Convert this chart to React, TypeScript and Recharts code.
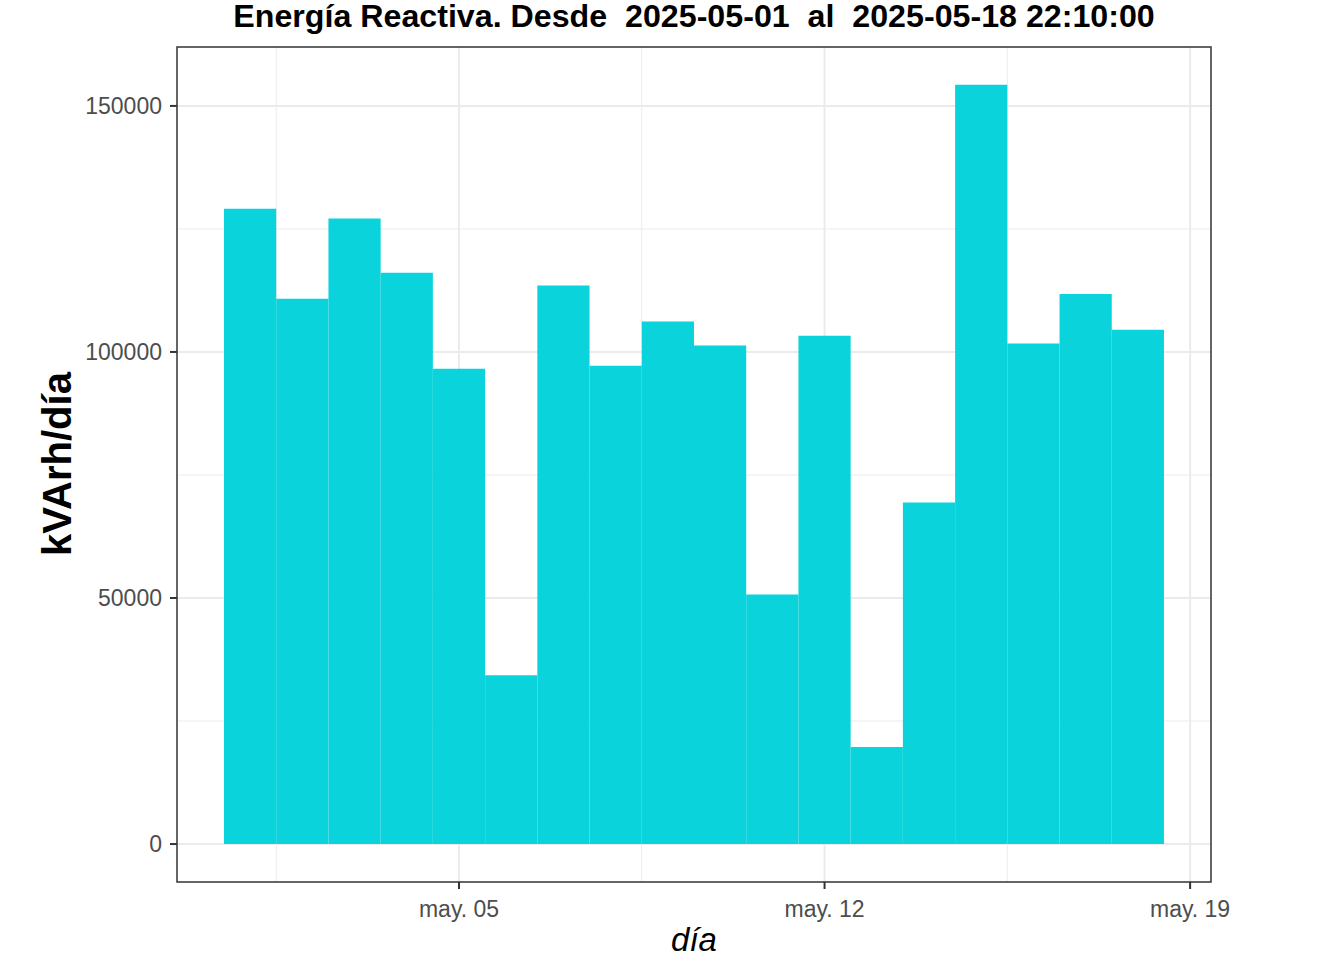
import React from 'react';
import { BarChart, Bar, XAxis, YAxis, CartesianGrid, ReferenceArea } from 'recharts';

// días de mayo (índice 0 = 1 de mayo)
const dayIndex = [0, 1, 2, 3, 4, 5, 6, 7, 8, 9, 10, 11, 12, 13, 14, 15, 16, 17];
const reactiveKVArh = [
  129100, 110800, 127100, 116100, 96600, 34300, 113500, 97200, 106200,
  101300, 50700, 103300, 19700, 69400, 154300, 101700, 111800, 104500,
];

const xTicks = [4, 11, 18];
const xTickLabels = ['may. 05', 'may. 12', 'may. 19'];
const xMinor = [0.5, 7.5, 14.5];
const yTicks = [0, 50000, 100000, 150000];
const yMinor = [25000, 75000, 125000];
const xDomain: [number, number] = [-1.4, 18.4];
const yDomain: [number, number] = [-7715, 161975];

const data = dayIndex.map((d, i) => ({ d, v: reactiveKVArh[i] }));

const FONT = '"Liberation Sans", Arial, sans-serif';

const App: React.FC = () => {
  return (
    <div style={{ position: 'absolute', left: 0, top: 0, width: 1344, height: 960, background: '#fff', fontFamily: FONT }}>
      <BarChart
        width={1344}
        height={960}
        data={data}
        margin={{ top: 47, right: 133, bottom: 0, left: 0 }}
        barCategoryGap={0}
      >
        <CartesianGrid
          stroke="#EBEBEB"
          strokeWidth={1}
          horizontalValues={yMinor}
          verticalValues={xMinor}
        />
        <CartesianGrid
          stroke="#EBEBEB"
          strokeWidth={2}
          horizontalValues={yTicks}
          verticalValues={xTicks}
        />
        <XAxis
          dataKey="d"
          type="number"
          domain={xDomain}
          ticks={xTicks}
          tickFormatter={(t: number) => xTickLabels[xTicks.indexOf(t)]}
          axisLine={false}
          tickSize={7}
          tickMargin={12}
          height={78}
          tickLine={{ stroke: '#333333', strokeWidth: 2 }}
          tick={{ fill: '#4D4D4D', fontSize: 23, fontFamily: FONT }}
          allowDataOverflow
        />
        <YAxis
          type="number"
          domain={yDomain}
          ticks={yTicks}
          axisLine={false}
          width={177}
          tickSize={7}
          tickMargin={8}
          tickLine={{ stroke: '#333333', strokeWidth: 2 }}
          tick={{ fill: '#4D4D4D', fontSize: 23, fontFamily: FONT }}
          allowDataOverflow
        />
        <Bar dataKey="v" fill="#0AD3DC" barSize={52.2} isAnimationActive={false} />
        <ReferenceArea
          x1={xDomain[0]}
          x2={xDomain[1]}
          y1={yDomain[0]}
          y2={yDomain[1]}
          fill="none"
          fillOpacity={0}
          stroke="#333333"
          strokeWidth={1.5}
        />
      </BarChart>
      <div
        style={{
          position: 'absolute', left: 177, width: 1034, top: 0, textAlign: 'center',
          fontSize: 32.2, fontWeight: 'bold', lineHeight: '32px', whiteSpace: 'pre', color: '#000',
        }}
      >
        {'Energía Reactiva. Desde  2025-05-01  al  2025-05-18 22:10:00'}
      </div>
      <div
        style={{
          position: 'absolute', left: 177, width: 1034, top: 923, textAlign: 'center',
          fontSize: 33, fontStyle: 'italic', lineHeight: '33px', color: '#000',
        }}
      >
        día
      </div>
      <div
        style={{
          position: 'absolute', left: 56.5, top: 464, transform: 'translate(-50%, -50%) rotate(-90deg)',
          fontSize: 40, fontWeight: 'bold', lineHeight: '40px', whiteSpace: 'nowrap', color: '#000',
        }}
      >
        kVArh/día
      </div>
    </div>
  );
};

export default App;
